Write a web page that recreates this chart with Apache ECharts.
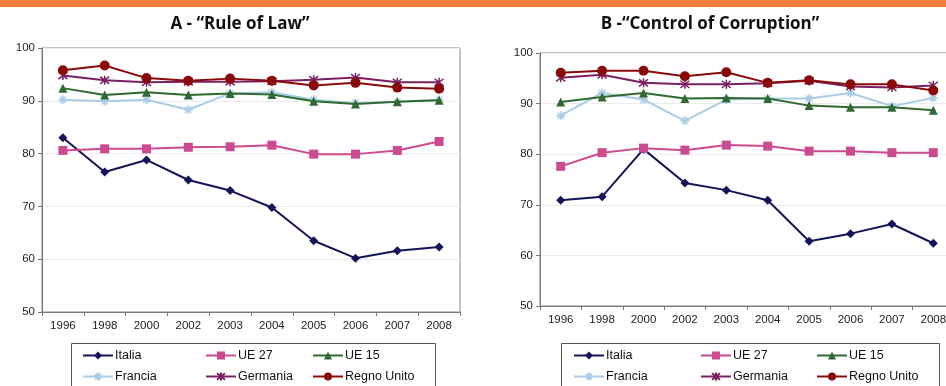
<!DOCTYPE html>
<html><head><meta charset="utf-8">
<script src="https://cdn.jsdelivr.net/npm/echarts@6/dist/echarts.min.js"></script>
<style>html,body{margin:0;padding:0;background:#fff}#c{width:946px;height:386px}</style>
</head><body><div id="c"></div>
<script>
const years = ['1996','1998','2000','2002','2003','2004','2005','2006','2007','2008'];
const seriesNames = ['Italia','UE 27','UE 15','Francia','Germania','Regno Unito'];
const titleA = 'A - “Rule of Law”';
const titleB = 'B -“Control of Corruption”';
// Rule of Law
const lawItalia   = [83.0, 76.5, 78.8, 75.0, 73.0, 69.8, 63.5, 60.2, 61.6, 62.3];
const lawUE27     = [80.6, 80.9, 80.9, 81.2, 81.3, 81.6, 79.9, 79.9, 80.6, 82.3];
const lawUE15     = [92.4, 91.1, 91.6, 91.1, 91.4, 91.2, 89.9, 89.4, 89.8, 90.1];
const lawFrancia  = [90.2, 89.9, 90.2, 88.3, 91.4, 91.6, 90.2, 89.6, 89.8, 90.2];
const lawGermania = [94.8, 93.9, 93.5, 93.6, 93.6, 93.7, 94.0, 94.4, 93.5, 93.5];
const lawRegno    = [95.8, 96.7, 94.3, 93.8, 94.2, 93.8, 92.9, 93.4, 92.5, 92.3];
// Control of Corruption
const corItalia   = [70.9, 71.6, 81.0, 74.3, 72.9, 70.9, 62.8, 64.3, 66.2, 62.4];
const corUE27     = [77.6, 80.3, 81.2, 80.8, 81.8, 81.6, 80.6, 80.6, 80.3, 80.3];
const corUE15     = [90.3, 91.3, 92.1, 91.0, 91.1, 91.0, 89.6, 89.3, 89.3, 88.7];
const corFrancia  = [87.6, 92.1, 90.8, 86.6, 90.8, 91.0, 91.0, 92.1, 89.5, 91.1];
const corGermania = [95.1, 95.7, 94.1, 93.8, 93.8, 94.0, 94.5, 93.4, 93.2, 93.6];
const corRegno    = [96.1, 96.5, 96.5, 95.4, 96.2, 94.1, 94.6, 93.8, 93.8, 92.6];

const colors = ['#14145a','#cc4a90','#2f6a30','#a9cde6','#7a1f62','#8a0a0a'];
const symbols = ['diamond','rect','triangle',
  'path://M0,5L10,5M5,0L5,10M1.5,1.5L8.5,8.5M8.5,1.5L1.5,8.5',
  'path://M1,1L9,9M9,1L1,9M5,0L5,10',
  'circle'];
const symSizes = [9, 9, 9, 9, 9, 10];
const lawData = [lawItalia, lawUE27, lawUE15, lawFrancia, lawGermania, lawRegno];
const corData = [corItalia, corUE27, corUE15, corFrancia, corGermania, corRegno];

function mkSeries(data, idx) {
  return data.map((d, i) => ({
    name: seriesNames[i], type: 'line', xAxisIndex: idx, yAxisIndex: idx,
    data: d, symbol: symbols[i], symbolSize: symSizes[i],
    lineStyle: {color: colors[i], width: 2},
    itemStyle: {color: colors[i], borderColor: colors[i], borderWidth: (i===3||i===4)?1.5:0},
    z: (i===3 ? 4 : 10)
  }));
}
const font = 'Liberation Sans, Arial, sans-serif';
function xAx(gi){ return {type:'category', gridIndex:gi, data:years, boundaryGap:true,
  axisLine:{lineStyle:{color:'#777'}}, axisTick:{show:true, length:4, lineStyle:{color:'#777'}},
  axisLabel:{color:'#222', fontSize:11.5, fontFamily:font, margin:8}}; }
function yAx(gi){ return {type:'value', gridIndex:gi, min:50, max:100, interval:10,
  axisLine:{show:true, lineStyle:{color:'#777'}}, axisTick:{show:true, length:4, lineStyle:{color:'#777'}},
  axisLabel:{color:'#222', fontSize:11.5, fontFamily:font, margin:7},
  splitLine:{show:true, lineStyle:{color:'#ececec'}}}; }
function leg(left, top, name){ return {left:left, top:top, orient:'horizontal',
  itemWidth:30, itemHeight:10, data:[name], selectedMode:false, padding:0,
  textStyle:{color:'#111', fontSize:12.5, fontFamily:font, padding:[0,0,0,-3]}}; }
const legCols = [[82,205,312],[573,700,816]];
const legRows = [349, 370];
const legends = [];
legCols.forEach(cols => {
  seriesNames.forEach((n, i) => {
    legends.push(leg(cols[i % 3], legRows[Math.floor(i / 3)], n));
  });
});

const chart = echarts.init(document.getElementById('c'));
chart.setOption({
  animation:false,
  backgroundColor:'#fff',
  title:[
    {text:titleA, left:235, top:11, textAlign:'center', textStyle:{fontSize:17, fontWeight:'bold', color:'#111', fontFamily:'Open Sans, sans-serif'}},
    {text:titleB, left:705, top:11, textAlign:'center', textStyle:{fontSize:17, fontWeight:'bold', color:'#111', fontFamily:'Open Sans, sans-serif'}}
  ],
  grid:[
    {left:42, top:48, width:418, height:264, show:true, borderColor:'#888', borderWidth:1, outerBoundsMode:'none', containLabel:false},
    {left:540, top:53, width:414, height:253, show:true, borderColor:'#888', borderWidth:1, outerBoundsMode:'none', containLabel:false}
  ],
  xAxis:[xAx(0), xAx(1)],
  yAxis:[yAx(0), yAx(1)],
  legend: legends,
  graphic:[
    {type:'rect', left:0, top:0, shape:{width:946, height:7}, style:{fill:'#f47f3a'}},
    {type:'rect', left:69, top:341, shape:{width:364, height:60}, style:{fill:'none', stroke:'#555', lineWidth:1}, z:-1},
    {type:'rect', left:559, top:341, shape:{width:378, height:60}, style:{fill:'none', stroke:'#555', lineWidth:1}, z:-1}
  ],
  series: mkSeries(lawData, 0).concat(mkSeries(corData, 1))
});
</script></body></html>
